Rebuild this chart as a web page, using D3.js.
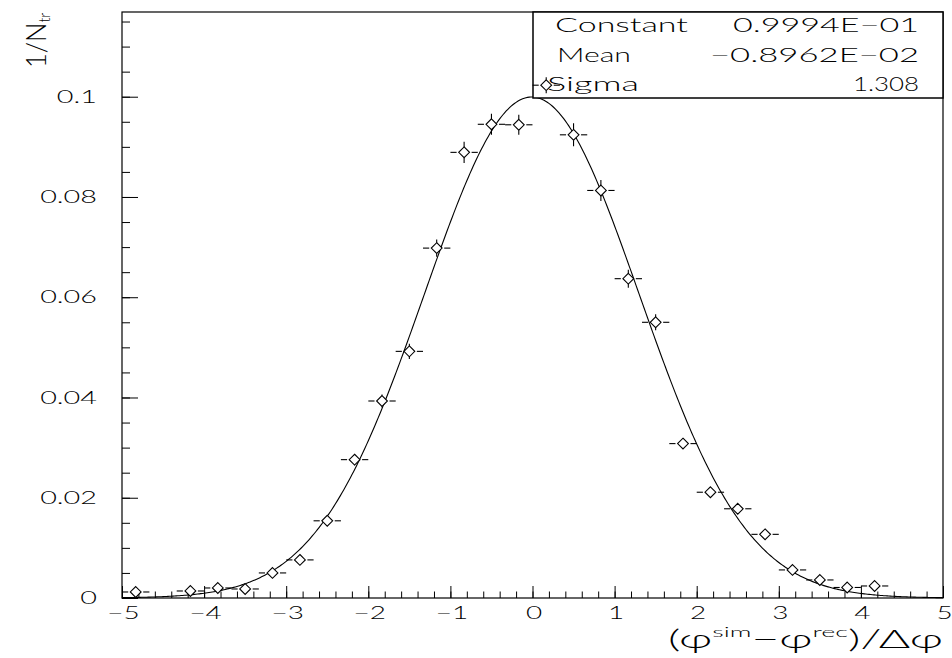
<!DOCTYPE html>
<html>
<head>
<meta charset="utf-8">
<script src="https://cdn.jsdelivr.net/npm/d3@7"></script>
<style>
  html, body { margin: 0; padding: 0; background: #fff; }
  svg { display: block; }
  text { font-family: "Lato", "DejaVu Sans", sans-serif; font-weight: 300; fill: #000; }
</style>
</head>
<body>
<svg id="chart" width="952" height="658"></svg>
<script>
// Normalised residual distribution (bin width 1/3) with a Gaussian fit
const binCentres = [-4.833, -4.167, -3.833, -3.5, -3.167, -2.833, -2.5, -2.167, -1.833, -1.5,
                    -1.167, -0.833, -0.5, -0.167, 0.167, 0.5, 0.833, 1.167, 1.5, 1.833,
                    2.167, 2.5, 2.833, 3.167, 3.5, 3.833, 4.167];
const binValues  = [0.0012, 0.0014, 0.0020, 0.0018, 0.0050, 0.0076, 0.0154, 0.0276, 0.0393, 0.0492,
                    0.0698, 0.0889, 0.0945, 0.0944, 0.1023, 0.0924, 0.0813, 0.0637, 0.0550, 0.0308,
                    0.0211, 0.0178, 0.0127, 0.0056, 0.0036, 0.0021, 0.0024];
const binErrors  = [0.0002, 0.0002, 0.0003, 0.0003, 0.0005, 0.0006, 0.0008, 0.0011, 0.0013, 0.0015,
                    0.0017, 0.0021, 0.0021, 0.0020, 0.0016, 0.0023, 0.0021, 0.0018, 0.0016, 0.0011,
                    0.0010, 0.0009, 0.0008, 0.0005, 0.0004, 0.0003, 0.0003];
const binWidth = 1 / 3;

// Fit parameters shown in the statistics box
const fitConstant = 0.09994;
const fitMean = -0.008962;
const fitSigma = 1.308;
const statNames  = ["Constant", "Mean", "Sigma"];
const statValues = ["0.9994E\u221201", "\u22120.8962E\u221202", "1.308"];

// Axis ticks
const xMajorTicks = [-5, -4, -3, -2, -1, 0, 1, 2, 3, 4, 5];
const xTickLabels = ["\u22125", "\u22124", "\u22123", "\u22122", "\u22121", "0", "1", "2", "3", "4", "5"];
const yMajorTicks = [0, 0.02, 0.04, 0.06, 0.08, 0.1];
const yTickLabels = ["0", "0.02", "0.04", "0.06", "0.08", "0.1"];
const xMinorStep = 0.2;
const yMinorStep = 0.005;

const svg = d3.select("#chart");
const L = 122, R = 943, T = 12, B = 598;

const x = d3.scaleLinear().domain([-5, 5]).range([L, R]);
const y = d3.scaleLinear().domain([0, 0.1169]).range([B, T]);

// Widen glyphs of a text run by a horizontal factor (stroke-font look)
function widen(sel, factor) {
  sel.each(function () {
    const w = this.getComputedTextLength();
    this.setAttribute("textLength", (w * factor).toFixed(2));
    this.setAttribute("lengthAdjust", "spacingAndGlyphs");
  });
}

const xMinor = d3.range(-5, 5.0001, xMinorStep).map(v => +v.toFixed(3));
const yMinor = d3.range(0, 0.1169, yMinorStep).map(v => +v.toFixed(4));

// Minor ticks
svg.append("g").attr("transform", `translate(0,${B})`)
  .call(d3.axisBottom(x).tickValues(xMinor).tickSize(-6.5).tickSizeOuter(0).tickFormat(""))
  .call(g => g.select(".domain").remove())
  .selectAll("line").attr("stroke", "#000");
svg.append("g").attr("transform", `translate(${L},0)`)
  .call(d3.axisLeft(y).tickValues(yMinor).tickSize(-8).tickSizeOuter(0).tickFormat(""))
  .call(g => g.select(".domain").remove())
  .selectAll("line").attr("stroke", "#000");

// Major ticks with labels
const xAxis = svg.append("g").attr("transform", `translate(0,${B})`)
  .call(d3.axisBottom(x).tickValues(xMajorTicks).tickSize(-12).tickSizeOuter(0).tickPadding(8)
    .tickFormat((d, i) => xTickLabels[i]));
xAxis.attr("font-family", null).attr("font-size", null);
xAxis.select(".domain").remove();
xAxis.selectAll("line").attr("stroke", "#000");
xAxis.selectAll("text").attr("font-size", 18).attr("dx", 1).call(widen, 1.55);

const yAxis = svg.append("g").attr("transform", `translate(${L},0)`)
  .call(d3.axisLeft(y).tickValues(yMajorTicks).tickSize(-16).tickSizeOuter(0).tickPadding(25)
    .tickFormat((d, i) => yTickLabels[i]));
yAxis.attr("font-family", null).attr("font-size", null);
yAxis.select(".domain").remove();
yAxis.selectAll("line").attr("stroke", "#000");
yAxis.selectAll("text").attr("font-size", 18).call(widen, 1.6);

// Fitted Gaussian
const gauss = v => fitConstant * Math.exp(-0.5 * Math.pow((v - fitMean) / fitSigma, 2));
const curveX = d3.range(-5, 5.0001, 0.02);
svg.append("path")
  .datum(curveX)
  .attr("fill", "none")
  .attr("stroke", "#000")
  .attr("stroke-width", 1.1)
  .attr("d", d3.line().x(d => x(d)).y(d => y(gauss(d))));

// Frame
svg.append("rect")
  .attr("x", L).attr("y", T).attr("width", R - L).attr("height", B - T)
  .attr("fill", "none").attr("stroke", "#000").attr("stroke-width", 1.2);

// Statistics box
const box = svg.append("g");
box.append("rect")
  .attr("x", 533).attr("y", T).attr("width", R - 533).attr("height", 86)
  .attr("fill", "#fff").attr("stroke", "#000").attr("stroke-width", 1.5);

// Data points: hollow diamonds with error bars outside the marker
const mk = 5.4, gapX = 7.5;
const pts = svg.append("g").attr("stroke", "#000").attr("stroke-width", 1.1).attr("fill", "none");
binCentres.forEach((c, i) => {
  const cx = x(c), cy = y(binValues[i]);
  const hx = x(c + binWidth / 2) - cx;
  const ey = y(binValues[i] - binErrors[i]) - cy;
  const g = pts.append("g");
  g.append("path").attr("fill", "#fff")
    .attr("d", `M${cx},${cy - mk}L${cx + mk},${cy}L${cx},${cy + mk}L${cx - mk},${cy}Z`);
  g.append("line").attr("x1", cx - hx).attr("x2", cx - gapX).attr("y1", cy).attr("y2", cy);
  g.append("line").attr("x1", cx + gapX).attr("x2", cx + hx).attr("y1", cy).attr("y2", cy);
  if (ey > mk) {
    g.append("line").attr("x1", cx).attr("x2", cx).attr("y1", cy - ey).attr("y2", cy - mk);
    g.append("line").attr("x1", cx).attr("x2", cx).attr("y1", cy + mk).attr("y2", cy + ey);
  }
});

// Statistics text
const rowY = [32, 62, 90.5];
const nameX = [555, 557, 547];
const nameW = [133, 74, 92];
const valueW = [186, 209, 66];
statNames.forEach((n, i) => {
  box.append("text").attr("x", nameX[i]).attr("y", rowY[i])
    .attr("font-size", 20).attr("textLength", nameW[i])
    .attr("lengthAdjust", "spacingAndGlyphs").text(n);
  box.append("text").attr("x", 919).attr("y", rowY[i]).attr("text-anchor", "end")
    .attr("font-size", 20).attr("textLength", valueW[i])
    .attr("lengthAdjust", "spacingAndGlyphs").text(statValues[i]);
});

// Axis titles
const xt = svg.append("text").attr("text-anchor", "end").attr("font-size", 25);
xt.append("tspan").text("(\u03c6");
xt.append("tspan").attr("font-size", 14).attr("dy", -11).text("sim");
xt.append("tspan").attr("dy", 11).text("\u2212\u03c6");
xt.append("tspan").attr("font-size", 14).attr("dy", -11).text("rec");
xt.append("tspan").attr("dy", 11).text(")/\u0394\u03c6");
{
  const bb = xt.node().getBBox();
  xt.attr("transform", `translate(943,648) scale(${(275 / bb.width).toFixed(3)},1)`);
}

const yt = svg.append("text").attr("font-size", 27);
yt.append("tspan").text("1/N");
yt.append("tspan").attr("font-size", 15).attr("dy", 4).text("tr");
{
  const bb = yt.node().getBBox();
  yt.attr("transform", `translate(46,68) rotate(-90) scale(${(56 / bb.width).toFixed(3)},1)`);
}
</script>
</body>
</html>
